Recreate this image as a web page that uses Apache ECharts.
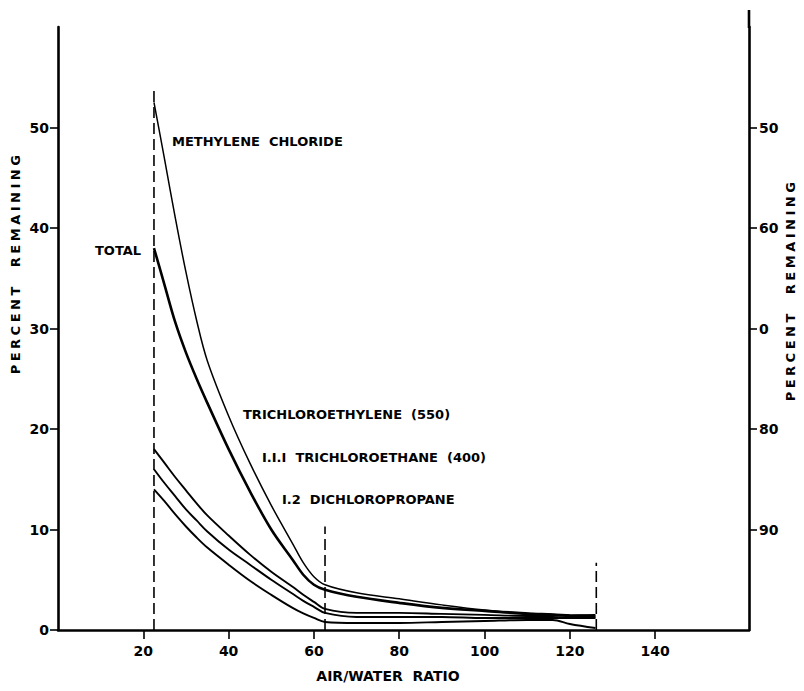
<!DOCTYPE html>
<html><head><meta charset="utf-8">
<script src="https://cdn.jsdelivr.net/npm/echarts@6/dist/echarts.min.js"></script>
<style>html,body{margin:0;padding:0;background:#fff}#c{width:804px;height:691px}</style>
</head><body><div id="c"></div>
<script>
// AIR/WATER RATIO sample points
const airWater          = [22.5, 25, 27.5, 30, 32.5, 35, 40, 45, 50, 55, 57.5, 60, 62.6, 70, 80, 90, 100, 110, 116, 120, 126];
// PERCENT REMAINING
const methyleneChloride = [52.5, 46.8, 41, 35.6, 30.8, 26.8, 21.3, 16.6, 12.4, 8.6, 6.7, 5.3, 4.5, 3.7, 3.1, 2.5, 2.0, 1.7, 1.6, 1.5, 1.4];
const totalRemaining    = [38, 34.3, 30.6, 27.6, 25, 22.6, 18, 13.8, 10, 7, 5.5, 4.5, 4.0, 3.3, 2.7, 2.2, 1.9, 1.6, 1.5, 1.4, 1.3];
const trichloroethylene = [18, 16.6, 15.2, 13.9, 12.6, 11.4, 9.4, 7.5, 5.8, 4.3, 3.5, 2.8, 2.1, 1.7, 1.7, 1.6, 1.5, 1.4, 1.4, 1.45, 1.5];
const trichloroethane   = [16, 14.6, 13.3, 12.0, 10.9, 9.8, 8.0, 6.5, 5.0, 3.6, 2.9, 2.3, 1.7, 1.3, 1.3, 1.3, 1.2, 1.2, 1.2, 1.2, 1.2];
const dichloropropane   = [14, 12.8, 11.5, 10.3, 9.2, 8.2, 6.5, 4.9, 3.5, 2.2, 1.65, 1.2, 0.8, 0.7, 0.7, 0.8, 0.9, 1.0, 1.0, 0.6, 0.2];
// dashed vertical guides
const guideX   = [22.5, 62.6, 126.2];
const guideTop = [53.8, 10.3, 6.7];
// ticks
const xTicks = [20, 40, 60, 80, 100, 120, 140];
const leftTicks = [0, 10, 20, 30, 40, 50];
const rightTickAt = [10, 20, 30, 40, 50];
const rightTickText = ['90', '80', '0', '60', '50'];

const FONT = 'DejaVu Sans';
const chart = echarts.init(document.getElementById('c'), null, {renderer: 'svg'});

function pairs(ys) { return airWater.map((x, i) => [x, ys[i]]); }
function curve(name, ys, w) {
  return {
    name, type: 'line', data: pairs(ys), showSymbol: false, symbol: 'none',
    smooth: 0.35,
    lineStyle: {color: '#000', width: w}, z: 3, silent: true
  };
}
const guideSeries = guideX.map((x, i) => ({
  type: 'line', data: [[x, 0], [x, guideTop[i]]], showSymbol: false, symbol: 'none',
  lineStyle: {color: '#000', width: 1.6, type: [11, 5]}, z: 2, silent: true
}));

const axisLineStyle = {color: '#000', width: 2.6};
const labelStyle = {color: '#000', fontFamily: FONT, fontWeight: 'bold', fontSize: 14};

const option = {
  animation: false,
  backgroundColor: '#fff',
  grid: {left: 58, right: 55, top: 27, bottom: 61, containLabel: false},
  xAxis: {
    type: 'value', min: 0, max: 162,
    axisLine: {show: true, lineStyle: axisLineStyle},
    axisTick: {show: true, customValues: xTicks, length: 9, inside: false, lineStyle: {color: '#000', width: 1.6}},
    axisLabel: Object.assign({customValues: xTicks, margin: 14}, labelStyle),
    splitLine: {show: false}
  },
  yAxis: [{
    type: 'value', min: 0, max: 60, position: 'left',
    axisLine: {show: true, lineStyle: axisLineStyle},
    axisTick: {show: true, customValues: leftTicks, length: 8, lineStyle: {color: '#000', width: 1.6}},
    axisLabel: Object.assign({customValues: leftTicks, margin: 9}, labelStyle),
    splitLine: {show: false}
  }, {
    type: 'value', min: 0, max: 60, position: 'right',
    axisLine: {show: true, lineStyle: axisLineStyle},
    axisTick: {show: true, customValues: rightTickAt, length: 8, lineStyle: {color: '#000', width: 1.6}},
    axisLabel: Object.assign({
      customValues: rightTickAt, margin: 10,
      formatter: v => rightTickText[rightTickAt.indexOf(v)]
    }, labelStyle),
    splitLine: {show: false}
  }],
  series: [
    curve('METHYLENE CHLORIDE', methyleneChloride, 1.5),
    curve('TOTAL', totalRemaining, 2.6),
    curve('TRICHLOROETHYLENE (550)', trichloroethylene, 1.9),
    curve('I.I.I TRICHLOROETHANE (400)', trichloroethane, 1.9),
    curve('I.2 DICHLOROPROPANE', dichloropropane, 1.9)
  ].concat(guideSeries),
  graphic: [
    {type: 'line', shape: {x1: 749, y1: 10, x2: 749, y2: 28}, style: {stroke: '#000', lineWidth: 2.6}},
    {type: 'text', x: 172, y: 141, style: {text: 'METHYLENE  CHLORIDE', font: 'bold 13px ' + FONT, fill: '#000', textVerticalAlign: 'middle'}},
    {type: 'text', x: 95, y: 250, style: {text: 'TOTAL', font: 'bold 13px ' + FONT, fill: '#000', textVerticalAlign: 'middle'}},
    {type: 'text', x: 243, y: 414, style: {text: 'TRICHLOROETHYLENE  (550)', font: 'bold 13px ' + FONT, fill: '#000', textVerticalAlign: 'middle'}},
    {type: 'text', x: 262, y: 457, style: {text: 'I.I.I  TRICHLOROETHANE  (400)', font: 'bold 13px ' + FONT, fill: '#000', textVerticalAlign: 'middle'}},
    {type: 'text', x: 282, y: 499, style: {text: 'I.2  DICHLOROPROPANE', font: 'bold 13px ' + FONT, fill: '#000', textVerticalAlign: 'middle'}},
    {type: 'text', x: 388, y: 676, style: {text: 'AIR/WATER  RATIO', font: 'bold 14px ' + FONT, fill: '#000', textAlign: 'center', textVerticalAlign: 'middle'}},
    {type: 'text', x: 15, y: 263, rotation: Math.PI / 2, style: {text: 'PERCENT  REMAINING', font: 'bold 13px ' + FONT, fill: '#000', textAlign: 'center', textVerticalAlign: 'middle'}},
    {type: 'text', x: 790, y: 290, rotation: Math.PI / 2, style: {text: 'PERCENT  REMAINING', font: 'bold 13px ' + FONT, fill: '#000', textAlign: 'center', textVerticalAlign: 'middle'}}
  ]
};
chart.setOption(option);
// widen the letter spacing of the two axis titles, as in the reference lettering
document.querySelectorAll('#c svg text').forEach(t => {
  if (t.textContent.indexOf('REMAINING') >= 0) {
    t.style.letterSpacing = '3.5px';
  }
});
</script></body></html>
